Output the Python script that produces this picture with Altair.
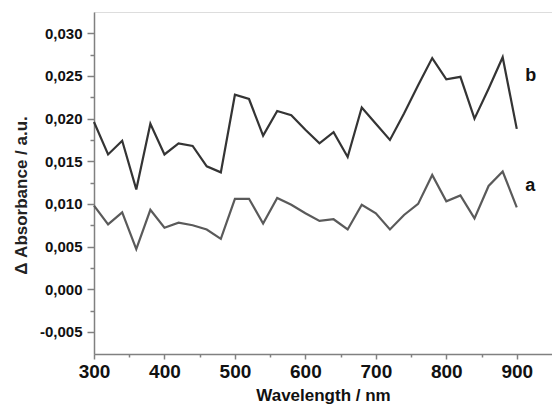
import altair as alt
import pandas as pd

wavelength = [300, 320, 340, 360, 380, 400, 420, 440, 460, 480, 500, 520, 540, 560, 580,
              600, 620, 640, 660, 680, 700, 720, 740, 760, 780, 800, 820, 840, 860, 880, 900]
abs_a = [0.0098, 0.0076, 0.0090, 0.0047, 0.0093, 0.0072, 0.0078, 0.0075, 0.0070, 0.0059,
         0.0106, 0.0106, 0.0077, 0.0107, 0.0099, 0.0089, 0.0080, 0.0082, 0.0070, 0.0099,
         0.0089, 0.0070, 0.0087, 0.0100, 0.0134, 0.0103, 0.0110, 0.0083, 0.0121, 0.0138, 0.0096]
abs_b = [0.0196, 0.0158, 0.0174, 0.0117, 0.0194, 0.0158, 0.0171, 0.0168, 0.0144, 0.0137,
         0.0228, 0.0223, 0.0180, 0.0209, 0.0204, 0.0187, 0.0171, 0.0184, 0.0155, 0.0213,
         0.0194, 0.0175, 0.0206, 0.0239, 0.0271, 0.0246, 0.0249, 0.0200, 0.0235, 0.0272, 0.0188]
series_names = ["a", "b"]
label_x = [912, 912]
label_y = [0.01147, 0.02438]

x_major = [300, 400, 500, 600, 700, 800, 900]
x_minor = [350, 450, 550, 650, 750, 850]
y_major = [-0.005, 0.0, 0.005, 0.010, 0.015, 0.020, 0.025, 0.030]
y_minor = [-0.0025, 0.0025, 0.0075, 0.0125, 0.0175, 0.0225, 0.0275]

rows = []
for w, va, vb in zip(wavelength, abs_a, abs_b):
    rows.append({"wl": w, "val": va, "series": "a"})
    rows.append({"wl": w, "val": vb, "series": "b"})
df = pd.DataFrame(rows)
lab = pd.DataFrame({"wl": label_x, "val": label_y, "series": series_names})

FONT = "Liberation Sans"
xscale = alt.Scale(domain=[300, 950], nice=False, zero=False)
yscale = alt.Scale(domain=[-0.0076, 0.0325], nice=False, zero=False)
color = alt.Scale(domain=series_names, range=["#5a5a5a", "#343434"])

lines = alt.Chart(df).mark_line(strokeWidth=2.2).encode(
    x=alt.X("wl:Q", scale=xscale,
            axis=alt.Axis(values=x_major, orient="bottom", title="Wavelength / nm",
                          tickSize=5, labelPadding=3, labelFontSize=19,
                          labelFont=FONT, labelFontWeight="bold", labelColor="#111",
                          titleFont=FONT, titleFontSize=17, titleFontWeight="bold",
                          titleColor="#111", titlePadding=6, grid=False,
                          domainColor="#808080", tickColor="#808080",
                          domainWidth=1.5, tickWidth=1.5, labelFlush=False)),
    y=alt.Y("val:Q", scale=yscale,
            axis=alt.Axis(values=y_major, orient="left", title="\u0394 Absorbance / a.u.",
                          labelExpr="replace(replace(format(datum.value, '.3f'), '.', ','), '\u2212', '-')",
                          tickSize=7, labelPadding=5, labelFontSize=15,
                          labelFont=FONT, labelFontWeight="bold", labelColor="#111",
                          titleFont=FONT, titleFontSize=17, titleFontWeight="bold",
                          titleColor="#222", titlePadding=9, titleY=183, grid=False,
                          domainColor="#808080", tickColor="#808080",
                          domainWidth=1.5, tickWidth=1.5, labelFlush=False)),
    color=alt.Color("series:N", scale=color, legend=None),
    detail="series:N",
)

labels = alt.Chart(lab).mark_text(font=FONT, fontSize=18, fontWeight="bold",
                                  align="left", baseline="alphabetic", color="#111").encode(
    x=alt.X("wl:Q", scale=xscale,
            axis=alt.Axis(values=x_minor, orient="bottom", labels=False, title=None,
                          tickSize=3, domain=False, grid=False,
                          tickColor="#808080", tickWidth=1.5)),
    y=alt.Y("val:Q", scale=yscale,
            axis=alt.Axis(values=y_minor, orient="left", labels=False, title=None,
                          tickSize=4, domain=False, grid=False,
                          tickColor="#808080", tickWidth=1.5)),
    text="series:N",
)

chart = alt.layer(lines, labels).resolve_axis(x="independent", y="independent").properties(
    width=458, height=342,
    autosize=alt.AutoSizeParams(type="none"),
    padding={"left": 94, "top": 12, "right": 0, "bottom": 53},
).configure_view(stroke=None).configure(background="white")

chart.save("out.html", embed_options={"renderer": "svg", "actions": False})
